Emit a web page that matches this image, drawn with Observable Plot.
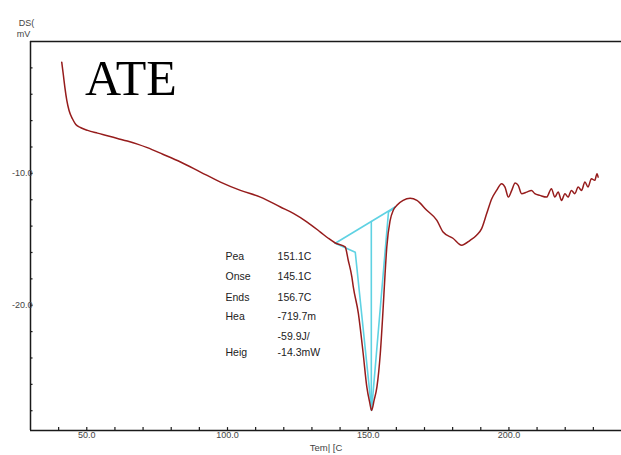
<!DOCTYPE html>
<html><head><meta charset="utf-8">
<script src="https://cdn.jsdelivr.net/npm/d3@7"></script>
<script src="https://cdn.jsdelivr.net/npm/@observablehq/plot@0.6"></script>
<style>body{margin:0;background:#fff}</style>
</head><body><div id="chart"></div>
<script>
// DSC curve (temperature °C, signal mV)
const temp = [41.1,41.4,41.7,42.2,42.9,43.7,44.9,46.1,47.9,50.3,53.8,57.3,60.9,64.4,68.0,71.5,77.0,83.3,90.4,97.5,104.6,111.7,118.8,123.4,128.3,133.0,135.8,138.3,141.8,142.9,144.2,144.7,146.5,148.2,149.5,150.5,151.2,152.1,153.1,154.3,155.2,156.0,156.6,157.8,158.9,160.2,162.4,164.9,167.3,170.8,174.4,176.6,180.1,183.2,186.2,188.5,190.3,192.1,193.9,195.6,197.4,198.6,199.8,201.0,202.2,203.3,204.5,206.3,208.0,209.2,211.0,213.4,215.1,216.3,217.5,218.7,219.9,221.0,222.2,223.4,224.6,225.8,227.0,228.1,229.3,230.5,231.3,231.7];
const dsc = [-1.57,-2.07,-2.58,-3.46,-4.47,-5.23,-5.86,-6.29,-6.54,-6.74,-6.95,-7.14,-7.35,-7.55,-7.78,-8.05,-8.55,-9.14,-9.90,-10.66,-11.29,-11.80,-12.55,-13.03,-13.69,-14.45,-14.92,-15.28,-15.58,-16.59,-17.86,-18.61,-20.61,-23.64,-26.19,-27.35,-27.98,-27.2,-26.19,-23.64,-20.61,-17.58,-15.58,-13.56,-12.8,-12.42,-12.05,-11.89,-12.05,-12.8,-13.56,-14.45,-14.92,-15.45,-15.08,-14.70,-14.19,-13.05,-11.92,-11.29,-10.78,-11.04,-11.80,-11.29,-10.73,-10.91,-11.54,-11.42,-11.29,-11.54,-11.67,-11.80,-11.16,-11.80,-11.42,-12.05,-11.54,-11.80,-11.29,-11.54,-11.04,-11.29,-10.66,-11.04,-10.40,-10.53,-10.02,-10.28];

// Peak evaluation construction lines
const evalTemp = [138.3,145.4,151.2,157.2,159.6];
const evalDsc  = [-15.3,-15.98,-27.95,-12.93,-12.55];
const baseTemp = [138.3,159.6];
const baseDsc  = [-15.3,-12.55];
const peakTemp = [151.1,151.1];
const peakDsc  = [-13.65,-27.95];

// Result table
const resLabels = ["Pea","Onse","Ends","Hea","","Heig"];
const resValues = ["151.1C","145.1C","156.7C","-719.7m","-59.9J/","-14.3mW"];
const resDsc    = [-16.3,-17.85,-19.4,-20.9,-22.35,-23.6];
const resLabelTemp = 99.3;
const resValueTemp = 117.8;

// Axes
const xDomain = [30,240];
const yDomain = [-29.5,0];
const xMajor = [50,100,150,200];
const xMinor = d3.range(40,240,10);
const yMajor = [-10,-20];
const yMinor = d3.range(-28,0,2);

const curve = temp.map((t,i)=>({t, v: dsc[i]}));
const evalLine = evalTemp.map((t,i)=>({t, v: evalDsc[i]}));
const baseLine = baseTemp.map((t,i)=>({t, v: baseDsc[i]}));
const peakLine = peakTemp.map((t,i)=>({t, v: peakDsc[i]}));
const results = resLabels.map((l,i)=>({l, val: resValues[i], v: resDsc[i]}));

const font = "Liberation Sans, Arial, sans-serif";
const axisColor = "#1a1a1a";
const red = "#961c1c";
const cyan = "#5fd2e3";

const chart = Plot.plot({
  width: 621, height: 455,
  marginLeft: 30, marginRight: 0, marginTop: 41, marginBottom: 25,
  style: {fontFamily: font, background: "#fff"},
  x: {domain: xDomain},
  y: {domain: yDomain},
  marks: [
    // frame
    Plot.ruleY([yDomain[1]], {x1: xDomain[0], x2: xDomain[1], stroke: axisColor, strokeWidth: 1.5}),
    Plot.ruleY([yDomain[0]], {x1: xDomain[0], x2: xDomain[1], stroke: axisColor, strokeWidth: 1.5}),
    Plot.ruleX([xDomain[0]], {y1: yDomain[0], y2: yDomain[1], stroke: axisColor, strokeWidth: 1.5}),
    // inward ticks
    Plot.ruleX(xMinor, {x: d=>d, y1: yDomain[0], y2: yDomain[0]+0.22, stroke: axisColor, strokeWidth: 1.2}),
    Plot.ruleY(yMinor, {y: d=>d, x1: xDomain[0], x2: xDomain[0]+0.9, stroke: axisColor, strokeWidth: 1.2}),
    Plot.axisX(xMajor, {tickSize: 0, tickPadding: 1, tickFormat: d=>d.toFixed(1), fontSize: 9, fill: "#444", label: null}),
    Plot.axisY(yMajor, {tickSize: 0, tickPadding: -2, tickFormat: d=>d.toFixed(1), fontSize: 9, fill: "#444", label: null}),
    // axis titles
    Plot.text(["Tem| [C"], {x: 135, y: -30.85, fontSize: 9.5, fill: "#444"}),
    Plot.text(["DS("], {x: 28.6, y: 1.4, fontSize: 9, fill: "#444", textAnchor: "middle"}),
    Plot.text(["mV"], {x: 27.5, y: 0.55, fontSize: 9, fill: "#444", textAnchor: "middle"}),
    // big label
    Plot.text(["ATE"], {x: 49.4, y: -2.85, textAnchor: "start", fontSize: 50, fontFamily: "Liberation Serif, Times New Roman, serif", fill: "#000"}),
    // evaluation lines
    Plot.line(baseLine, {x: "t", y: "v", stroke: cyan, strokeWidth: 1.6}),
    Plot.line(evalLine, {x: "t", y: "v", stroke: cyan, strokeWidth: 1.6}),
    Plot.line(peakLine, {x: "t", y: "v", stroke: cyan, strokeWidth: 1.6}),
    // DSC curve
    Plot.line(curve, {x: "t", y: "v", stroke: red, strokeWidth: 1.5, curve: "monotone-x"}),
    // results
    Plot.text(results, {x: resLabelTemp, y: "v", text: "l", textAnchor: "start", fontSize: 10.5, fill: "#222"}),
    Plot.text(results, {x: resValueTemp, y: "v", text: "val", textAnchor: "start", fontSize: 10.5, fill: "#222"})
  ]
});
document.getElementById("chart").appendChild(chart);
</script>
</body></html>
